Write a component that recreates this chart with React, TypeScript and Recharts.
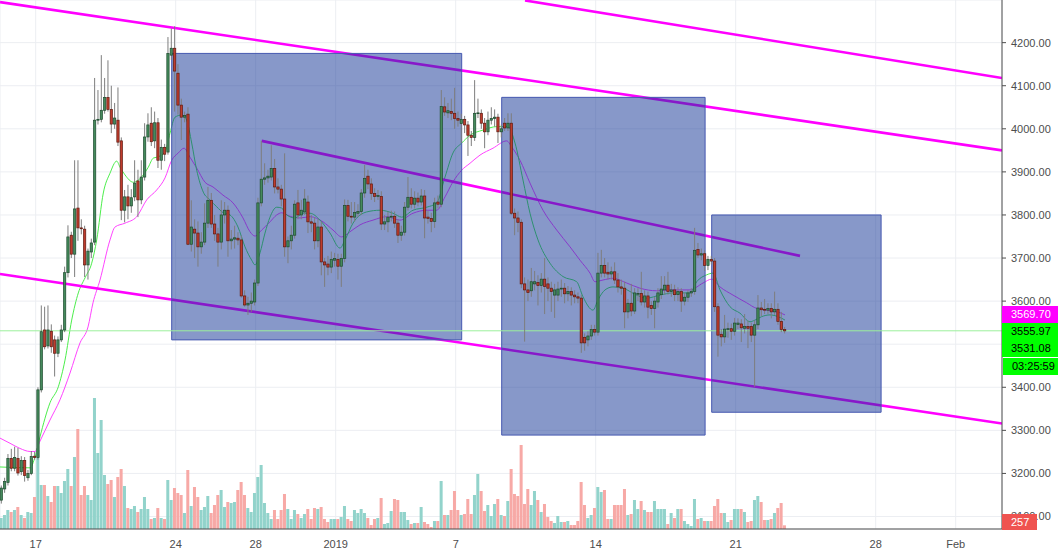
import React from 'react';
import {
  ComposedChart, Bar, Line, XAxis, YAxis, CartesianGrid,
  ReferenceArea, ReferenceLine
} from 'recharts';

const W = 1058;
const H = 554;
const FONT = '"Liberation Sans", Arial, sans-serif';

// 4h candles, time in days counted from 17 Dec 2018 00:00
const FIRST_T = -1.72;
const STEP = 1 / 6;

const OPEN = [
  3138, 3164, 3179, 3235, 3212, 3235, 3204, 3230, 3190, 3200,
  3240, 3237, 3394, 3533, 3496, 3530, 3510, 3479, 3510, 3533,
  3666, 3753, 3709, 3816, 3770, 3767, 3684, 3714, 3737, 4020,
  4022, 4043, 4073, 4045, 4011, 4020, 3972, 3811, 3842, 3821,
  3842, 3879, 3835, 3888, 3981, 4013, 3972, 4014, 3927, 3957,
  3946, 4171, 4187, 4129, 4055, 4027, 4034, 3732, 3767, 3758,
  3726, 3737, 3781, 3834, 3779, 3756, 3737, 3800, 3811, 3740,
  3744, 3746, 3742, 3612, 3591, 3595, 3598, 3642, 3828, 3883,
  3886, 3888, 3908, 3865, 3860, 3837, 3726, 3740, 3753, 3828,
  3800, 3807, 3830, 3784, 3781, 3740, 3772, 3691, 3686, 3679,
  3695, 3697, 3681, 3699, 3822, 3797, 3795, 3804, 3808, 3851,
  3890, 3872, 3850, 3843, 3843, 3779, 3784, 3795, 3797, 3781,
  3753, 3760, 3818, 3841, 3825, 3839, 3830, 3844, 3795, 3792,
  3785, 3830, 3825, 4051, 4037, 4040, 4036, 4024, 4012, 4022,
  4009, 3985, 3980, 4036, 4036, 4013, 3993, 4020, 4024, 4027,
  3993, 4013, 4002, 4013, 3804, 3793, 3783, 3640, 3626, 3624,
  3640, 3643, 3636, 3651, 3640, 3630, 3614, 3614, 3628, 3630,
  3617, 3622, 3614, 3610, 3607, 3516, 3510, 3519, 3534, 3528,
  3665, 3683, 3667, 3663, 3668, 3649, 3633, 3630, 3575, 3595,
  3577, 3616, 3618, 3598, 3612, 3590, 3583, 3598, 3615, 3626,
  3637, 3622, 3626, 3615, 3622, 3600, 3609, 3619, 3622, 3720,
  3707, 3710, 3683, 3697, 3693, 3587, 3523, 3517, 3535, 3536,
  3530, 3546, 3547, 3537, 3541, 3541, 3521, 3545, 3584, 3581,
  3579, 3583, 3575, 3581, 3553, 3534,
];

const HIGH = [
  3172, 3190, 3245, 3257, 3262, 3259, 3240, 3238, 3208, 3252,
  3250, 3400, 3590, 3587, 3590, 3546, 3520, 3518, 3545, 3680,
  3776, 3761, 3927, 3927, 3790, 3775, 3722, 3745, 4118, 4090,
  4171, 4118, 4159, 4100, 4060, 4096, 3980, 3858, 3870, 3860,
  3927, 3905, 3927, 4013, 4036, 4050, 4040, 4025, 3975, 3965,
  4213, 4233, 4238, 4150, 4070, 4040, 4050, 3834, 3790, 3785,
  3760, 3827, 3865, 3851, 3800, 3770, 3834, 3830, 3822, 3765,
  3775, 3760, 3752, 3625, 3610, 3620, 3650, 3840, 3972, 3920,
  3905, 3962, 3930, 3885, 3870, 3943, 3750, 3775, 3834, 3858,
  3835, 3860, 3845, 3800, 3795, 3790, 3785, 3700, 3705, 3715,
  3712, 3710, 3710, 3836, 3835, 3830, 3830, 3825, 3860, 3916,
  3905, 3885, 3862, 3858, 3855, 3800, 3808, 3810, 3808, 3790,
  3775, 3830, 3888, 3862, 3855, 3852, 3860, 3858, 3810, 3805,
  3840, 3845, 4090, 4073, 4060, 4070, 4095, 4040, 4035, 4030,
  4018, 3995, 4113, 4070, 4045, 4025, 4040, 4050, 4045, 4035,
  4010, 4025, 4036, 4036, 3815, 3808, 3790, 3655, 3650, 3677,
  3670, 3660, 3665, 3700, 3655, 3645, 3640, 3645, 3650, 3642,
  3635, 3632, 3625, 3620, 3615, 3525, 3530, 3545, 3545, 3712,
  3719, 3700, 3690, 3680, 3690, 3665, 3650, 3645, 3605, 3640,
  3630, 3630, 3668, 3625, 3622, 3600, 3610, 3630, 3658, 3658,
  3668, 3640, 3638, 3632, 3630, 3620, 3625, 3630, 3770, 3735,
  3722, 3718, 3705, 3705, 3700, 3595, 3535, 3568, 3550, 3548,
  3561, 3560, 3558, 3570, 3555, 3550, 3555, 3614, 3598, 3605,
  3595, 3595, 3622, 3595, 3575, 3540,
];

const LOW = [
  3130, 3155, 3172, 3205, 3205, 3195, 3196, 3181, 3183, 3196,
  3232, 3232, 3388, 3488, 3490, 3480, 3425, 3470, 3505, 3528,
  3655, 3700, 3656, 3740, 3755, 3656, 3650, 3700, 3730, 4010,
  4015, 4035, 4040, 3990, 4000, 3960, 3788, 3783, 3790, 3805,
  3832, 3795, 3825, 3880, 3970, 3960, 3955, 3909, 3905, 3925,
  3940, 4160, 4040, 4033, 3974, 4015, 3730, 3715, 3700, 3680,
  3710, 3730, 3770, 3770, 3740, 3680, 3720, 3780, 3703, 3720,
  3722, 3730, 3608, 3587, 3568, 3575, 3590, 3635, 3820, 3870,
  3875, 3880, 3850, 3850, 3820, 3703, 3688, 3720, 3745, 3790,
  3790, 3800, 3758, 3760, 3720, 3725, 3660, 3633, 3660, 3665,
  3680, 3650, 3633, 3690, 3785, 3780, 3785, 3795, 3800, 3840,
  3860, 3835, 3830, 3835, 3765, 3765, 3760, 3785, 3770, 3735,
  3740, 3752, 3810, 3815, 3815, 3820, 3822, 3746, 3780, 3760,
  3770, 3815, 3818, 4030, 4025, 4020, 4000, 4005, 3967, 3990,
  3937, 3960, 3972, 4025, 4000, 3955, 3985, 4010, 4005, 3967,
  3980, 3995, 3995, 3800, 3753, 3760, 3630, 3506, 3600, 3610,
  3625, 3590, 3620, 3570, 3600, 3575, 3561, 3600, 3610, 3595,
  3600, 3590, 3595, 3595, 3480, 3485, 3495, 3510, 3520, 3520,
  3655, 3655, 3650, 3650, 3640, 3620, 3615, 3537, 3560, 3565,
  3570, 3600, 3590, 3585, 3560, 3568, 3537, 3585, 3605, 3615,
  3615, 3610, 3600, 3600, 3575, 3590, 3598, 3610, 3615, 3700,
  3695, 3670, 3672, 3685, 3575, 3471, 3495, 3503, 3515, 3510,
  3520, 3535, 3505, 3525, 3491, 3505, 3401, 3535, 3565, 3570,
  3570, 3560, 3568, 3545, 3528, 3525,
];

const CLOSE = [
  3166, 3181, 3235, 3212, 3237, 3201, 3230, 3195, 3200, 3239,
  3237, 3394, 3529, 3494, 3533, 3494, 3479, 3510, 3533, 3666,
  3749, 3709, 3814, 3770, 3768, 3684, 3716, 3735, 4020, 4022,
  4043, 4073, 4045, 4011, 4025, 3969, 3811, 3842, 3821, 3840,
  3874, 3835, 3888, 3981, 4009, 3970, 4014, 3927, 3957, 3941,
  4175, 4187, 4134, 4055, 4027, 4031, 3732, 3772, 3758, 3726,
  3737, 3781, 3834, 3779, 3756, 3737, 3800, 3811, 3740, 3744,
  3747, 3742, 3612, 3591, 3595, 3600, 3642, 3828, 3883, 3886,
  3890, 3908, 3865, 3860, 3837, 3726, 3740, 3753, 3825, 3800,
  3811, 3837, 3784, 3781, 3740, 3772, 3691, 3684, 3679, 3697,
  3699, 3681, 3699, 3822, 3797, 3795, 3806, 3808, 3851, 3885,
  3872, 3850, 3843, 3845, 3779, 3784, 3795, 3797, 3781, 3753,
  3760, 3818, 3841, 3825, 3839, 3830, 3844, 3793, 3792, 3785,
  3828, 3825, 4052, 4039, 4042, 4036, 4024, 4020, 4022, 4009,
  3985, 3980, 4036, 4037, 4013, 3993, 4020, 4024, 4027, 3993,
  4000, 4002, 4013, 3804, 3793, 3783, 3640, 3626, 3620, 3645,
  3645, 3636, 3651, 3634, 3630, 3622, 3626, 3628, 3630, 3617,
  3622, 3614, 3610, 3607, 3503, 3503, 3519, 3534, 3528, 3665,
  3683, 3665, 3663, 3668, 3649, 3633, 3630, 3575, 3595, 3577,
  3619, 3618, 3598, 3612, 3586, 3583, 3600, 3619, 3628, 3637,
  3622, 3626, 3615, 3622, 3600, 3609, 3619, 3622, 3718, 3707,
  3710, 3683, 3697, 3693, 3587, 3521, 3517, 3535, 3536, 3530,
  3549, 3549, 3538, 3541, 3537, 3521, 3545, 3584, 3580, 3579,
  3583, 3575, 3581, 3553, 3534, 3531,
];

const VOLUME = [
  770, 980, 1330, 1190, 1330, 1540, 980, 770, 1190, 1120,
  2240, 5530, 3080, 3080, 2310, 1890, 3010, 3010, 2520, 3360,
  4200, 3010, 5040, 7000, 2380, 3010, 2380, 2030, 9170, 5320,
  7630, 3780, 3150, 3430, 2240, 3640, 4200, 3010, 1470, 1400,
  1610, 1190, 1400, 2240, 1400, 700, 770, 1470, 770, 700,
  3430, 2030, 2870, 2520, 2380, 1120, 4130, 1610, 2940, 2240,
  1330, 1540, 2310, 1120, 1680, 2380, 2730, 1540, 1890, 1820,
  1890, 2730, 3290, 2380, 1470, 1190, 2520, 3640, 4480, 1820,
  1120, 700, 1330, 700, 1330, 2450, 1400, 700, 1330, 1050,
  770, 1050, 1400, 700, 1470, 1400, 1540, 700, 490, 700,
  700, 700, 840, 1610, 700, 560, 1330, 1120, 1400, 1120,
  770, 280, 700, 770, 2170, 350, 420, 1260, 2100, 2030,
  1190, 1190, 630, 350, 420, 420, 1540, 490, 350, 140,
  560, 560, 3360, 980, 980, 1330, 2660, 1330, 980, 1050,
  2100, 1050, 2380, 3850, 2660, 1260, 1680, 910, 1750, 2100,
  980, 910, 1960, 4200, 2450, 2310, 5880, 1750, 2800, 1680,
  2660, 2030, 1190, 1750, 840, 560, 420, 910, 490, 490,
  560, 280, 280, 560, 3290, 1680, 770, 980, 1470, 2940,
  2590, 2730, 700, 700, 1680, 1680, 1680, 2800, 980, 1050,
  2030, 1400, 1960, 1330, 1190, 1190, 1960, 1400, 1400, 1400,
  350, 1120, 770, 1400, 1400, 560, 350, 210, 2100, 700,
  770, 560, 560, 560, 1610, 2100, 1120, 1120, 490, 630,
  1400, 1400, 1400, 1190, 490, 560, 2030, 2310, 1890, 630,
  630, 700, 1120, 1470, 1820, 257,
];

// moving averages: [day, price]
const FAST_MA = [
  [-1.785, 3215], [-0.285, 3213], [-0.035, 3238], [0.215, 3285], [0.715, 3364],
  [1.13, 3401], [1.465, 3463], [1.8, 3556], [2.13, 3619], [2.465, 3654],
  [2.8, 3688], [3.05, 3742], [3.38, 3851], [3.715, 3897], [4.05, 3925],
  [4.215, 3911], [4.465, 3893], [4.88, 3876], [5.13, 3881], [5.38, 3893],
  [5.63, 3911], [5.88, 3932], [6.05, 3934], [6.465, 3946], [6.715, 3990],
  [6.965, 4027], [7.3, 4032], [7.55, 4020], [7.8, 3967], [8.05, 3904],
  [8.38, 3853], [8.715, 3835], [9.05, 3819], [9.38, 3805], [9.715, 3800],
  [10.115, 3772], [10.465, 3726], [10.8, 3695], [10.965, 3684], [11.215, 3712],
  [11.465, 3758], [11.715, 3795], [12.05, 3818], [12.3, 3816], [12.55, 3800],
  [12.965, 3793], [13.365, 3804], [13.715, 3804], [14.215, 3788], [14.715, 3758],
  [15.215, 3723], [15.465, 3742], [15.865, 3781], [16.55, 3807], [17.215, 3811],
  [17.865, 3804], [18.3, 3795], [18.865, 3811], [19.55, 3818], [20.05, 3828],
  [20.465, 3888], [20.865, 3944], [21.3, 3967], [21.715, 3985], [22.365, 3997],
  [23.05, 4005], [23.615, 4005], [23.965, 3967], [24.365, 3881], [24.715, 3804],
  [25.115, 3742], [25.715, 3688], [26.365, 3657], [27.05, 3645], [27.365, 3610],
  [27.865, 3579], [28.115, 3603], [28.465, 3626], [28.865, 3633], [29.365, 3630],
  [30.05, 3614], [30.55, 3607], [31.215, 3614], [31.865, 3619], [32.715, 3619],
  [33.05, 3645], [33.55, 3661], [33.865, 3665], [34.215, 3626], [34.715, 3587],
  [35.215, 3572], [35.715, 3552], [35.965, 3556], [36.3, 3564], [36.715, 3568],
  [37.115, 3564], [37.465, 3556],
];

const SLOW_MA = [
  [-1.785, 3282], [-1.285, 3270], [-0.785, 3258], [-0.285, 3251], [-0.035, 3251],
  [0.215, 3275], [0.715, 3324], [1.215, 3371], [1.715, 3433], [2.215, 3503],
  [2.615, 3540], [2.865, 3596], [3.215, 3649], [3.715, 3742], [3.965, 3772],
  [4.465, 3781], [5.05, 3796], [5.55, 3835], [6.05, 3858], [6.465, 3886],
  [6.8, 3927], [7.13, 3944], [7.415, 3955], [7.715, 3934], [8.05, 3909],
  [8.465, 3876], [8.865, 3865], [9.365, 3846], [9.865, 3828], [10.365, 3793],
  [10.715, 3761], [10.965, 3751], [11.3, 3765], [11.715, 3784], [12.05, 3800],
  [12.3, 3805], [12.715, 3797], [13.215, 3793], [13.715, 3796], [14.365, 3784],
  [14.865, 3765], [15.3, 3749], [15.715, 3761], [16.215, 3777], [16.865, 3788],
  [17.55, 3796], [18.215, 3788], [18.865, 3804], [19.55, 3811], [20.05, 3811],
  [20.465, 3842], [20.865, 3877], [21.3, 3904], [21.715, 3920], [22.215, 3939],
  [22.865, 3955], [23.55, 3972], [23.8, 3958], [24.215, 3927], [24.715, 3874],
  [25.365, 3811], [26.05, 3765], [26.715, 3726], [27.215, 3695], [27.715, 3665],
  [27.965, 3645], [28.365, 3649], [28.865, 3653], [29.55, 3642], [30.215, 3630],
  [31.05, 3624], [31.865, 3626], [32.715, 3626], [33.365, 3642], [33.8, 3651],
  [34.215, 3633], [34.865, 3614], [35.55, 3596], [36.05, 3583], [36.715, 3578],
  [37.215, 3573], [37.465, 3568],
];

const DATE_TICKS = [0, 7, 11, 15, 21, 28, 35, 42, 46];
const DATE_LABELS = ['17', '24', '28', '2019', '7', '14', '21', '28', 'Feb'];
const PRICE_TICKS = [3100, 3200, 3300, 3400, 3500, 3600, 3700, 3800, 3900, 4000, 4100, 4200];
// 3500.00 sits under the price tags in the original, so its label is not drawn
const HIDDEN_PRICE_LABELS = [3500];

// drawings: boxes and channel lines in [day, price]
const BOXES = [
  { x1: 6.8, x2: 21.3, y1: 3510, y2: 4175 },
  { x1: 23.3, x2: 33.47, y1: 3289, y2: 4073 },
  { x1: 33.8, x2: 42.27, y1: 3342, y2: 3800 },
];
const CHANNELS = [
  [[-1.785, 4294], [48.315, 3950]],
  [[24.465, 4298], [48.315, 4118]],
  [[-1.785, 3663], [48.315, 3316]],
  [[11.3, 3972], [38.215, 3705]],
];

const LAST_PRICE = 3531.08;
const FAST_LAST = 3555.97;
const SLOW_LAST = 3569.70;
const TIMER = '03:25:59';

const X_DOMAIN = [-1.785, 48.315];
const P_DOMAIN = [3071, 4299];
const V_DOMAIN = [0, 37030];

const candles = OPEN.map((o, i) => ({
  t: FIRST_T + i * STEP,
  o,
  h: HIGH[i],
  l: LOW[i],
  c: CLOSE[i],
  v: VOLUME[i],
}));
const fast = FAST_MA.map(([t, v]) => ({ t, v }));
const slow = SLOW_MA.map(([t, v]) => ({ t, v }));

function Candle(props: any) {
  const { x, y, width, height, payload } = props;
  if (x == null || y == null || !payload) return null;
  const top = Math.min(y, y + height);
  const hh = Math.abs(height);
  const range = payload.h - payload.l;
  const k = range > 0 ? hh / range : 0;
  const up = payload.c >= payload.o;
  const bTop = top + (payload.h - Math.max(payload.o, payload.c)) * k;
  const bBot = top + (payload.h - Math.min(payload.o, payload.c)) * k;
  const cx = x + width / 2;
  return (
    <g>
      <line x1={cx} x2={cx} y1={top} y2={top + hh} stroke="#7d7d7d" strokeWidth={1} />
      <rect
        x={cx - 1.15}
        y={bTop}
        width={2.3}
        height={Math.max(bBot - bTop, 0.8)}
        fill={up ? '#458a5c' : '#bf3b2c'}
        stroke={up ? '#1d4a2e' : '#5e1a10'}
        strokeWidth={0.7}
      />
    </g>
  );
}

function VolumeBar(props: any) {
  const { x, y, width, height, payload } = props;
  if (x == null || y == null || !payload) return null;
  const up = payload.c >= payload.o;
  return (
    <rect
      x={x}
      y={Math.min(y, y + height)}
      width={width}
      height={Math.abs(height)}
      fill={up ? '#92d3cb' : '#f7a9a6'}
    />
  );
}

function Tag({ top, left = 1002, width = 56, height = 17, bg, color, text }: any) {
  return (
    <div
      style={{
        position: 'absolute', left, top, width, height, background: bg, color,
        fontSize: 11, lineHeight: `${height}px`, paddingLeft: 9, boxSizing: 'border-box',
        fontFamily: FONT, whiteSpace: 'nowrap',
      }}
    >
      {text}
    </div>
  );
}

export default function App() {
  const tick = { fontSize: 11, fill: '#4d4d4d', fontFamily: FONT };
  return (
    <div style={{ position: 'absolute', left: 0, top: 0, width: W, height: H, background: '#ffffff' }}>
      <ComposedChart width={W} height={H} data={candles} margin={{ top: 0, right: 0, bottom: 0, left: 0 }}>
        <CartesianGrid xAxisId="x" yAxisId="p" stroke="#eceef2" />
        <XAxis
          xAxisId="x" dataKey="t" type="number" domain={X_DOMAIN} allowDataOverflow
          ticks={DATE_TICKS} interval={0} height={25}
          tickFormatter={(v: number) => DATE_LABELS[DATE_TICKS.indexOf(v)] ?? ''}
          tickLine={false} tickSize={4} tickMargin={7}
          axisLine={{ stroke: '#4d4d4d' }} tick={tick}
        />
        <XAxis xAxisId="xv" dataKey="t" type="number" domain={X_DOMAIN} allowDataOverflow hide />
        <YAxis
          yAxisId="p" orientation="right" type="number" domain={P_DOMAIN} allowDataOverflow
          ticks={PRICE_TICKS} interval={0} width={56}
          tickFormatter={(v: number) => (HIDDEN_PRICE_LABELS.includes(v) ? '' : v.toFixed(2))}
          tickSize={4} tickMargin={5}
          axisLine={{ stroke: '#4d4d4d' }} tickLine={{ stroke: '#4d4d4d' }} tick={tick}
        />
        <YAxis yAxisId="v" type="number" domain={V_DOMAIN} allowDataOverflow hide />

        <Line
          data={slow} xAxisId="x" yAxisId="p" dataKey="v" type="monotone"
          stroke="#ff44ff" strokeWidth={1} dot={false} activeDot={false}
          isAnimationActive={false} zIndex={100}
        />
        <Line
          data={fast} xAxisId="x" yAxisId="p" dataKey="v" type="monotone"
          stroke="#4cee4c" strokeWidth={1} dot={false} activeDot={false}
          isAnimationActive={false} zIndex={100}
        />
        {CHANNELS.map((s, i) => (
          <ReferenceLine
            key={`ch${i}`} xAxisId="x" yAxisId="p"
            segment={[{ x: s[0][0], y: s[0][1] }, { x: s[1][0], y: s[1][1] }]}
            stroke="#ff00ff" strokeWidth={2.6} ifOverflow="hidden" zIndex={150}
          />
        ))}
        {BOXES.map((b, i) => (
          <ReferenceArea
            key={`bx${i}`} xAxisId="x" yAxisId="p"
            x1={b.x1} x2={b.x2} y1={b.y1} y2={b.y2}
            fill="#0f3193" fillOpacity={0.5} stroke="#4558b0" strokeWidth={1}
            strokeOpacity={1} ifOverflow="hidden" zIndex={200}
          />
        ))}
        <ReferenceLine
          xAxisId="x" yAxisId="p" y={LAST_PRICE} stroke="#9cf09c" strokeWidth={1} zIndex={250}
        />
        <Bar
          xAxisId="xv" yAxisId="v" dataKey="v" barSize={3} activeBar={false}
          shape={(p: any) => <VolumeBar {...p} />} isAnimationActive={false} zIndex={280}
        />
        <Bar
          xAxisId="x" yAxisId="p" dataKey={(d: any) => [d.l, d.h]} barSize={3} activeBar={false}
          shape={(p: any) => <Candle {...p} />} isAnimationActive={false} zIndex={300}
        />
      </ComposedChart>

      <Tag top={306} bg="#ff00ff" color="#ffffff" text={SLOW_LAST.toFixed(2)} />
      <Tag top={323} bg="#00ff00" color="#000000" text={FAST_LAST.toFixed(2)} />
      <Tag top={340} bg="#00ff00" color="#000000" text={LAST_PRICE.toFixed(2)} />
      <Tag top={358} left={1003} width={55} bg="#00ff00" color="#000000" text={TIMER} />
      <Tag top={514} width={35} height={16} bg="#ef5350" color="#ffffff" text={String(VOLUME[VOLUME.length - 1])} />
    </div>
  );
}
